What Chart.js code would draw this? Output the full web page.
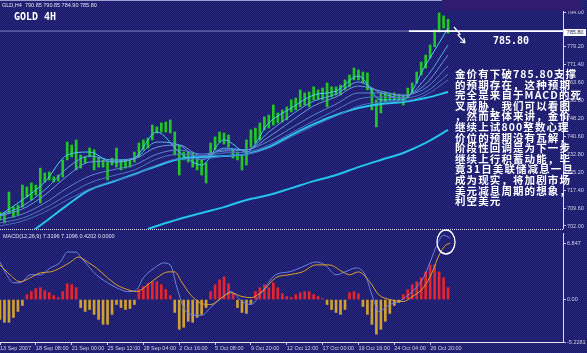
<!DOCTYPE html>
<html lang="zh-CN">
<head>
<meta charset="UTF-8">
<title>GOLD 4H</title>
<script src="https://cdn.jsdelivr.net/npm/chart.js@4.4.0/dist/chart.umd.min.js"></script>
<style>
html, body { margin: 0; padding: 0; }
body {
  width: 587px; height: 353px; overflow: hidden;
  background: #1e1e72 repeating-conic-gradient(#1a1a69 0 25%, #27277d 0 50%) 0 0/2px 2px;
  font-family: "Liberation Sans", Arial, sans-serif;
}
#wrap { position: relative; width: 587px; height: 353px; }
canvas { position: absolute; left: 0; }
#price { top: 0; }
#macd { top: 229px; }
.ov { position: absolute; white-space: nowrap; }
#topline { left: 0; top: 0; width: 442px; height: 1px; background: #9c9cd0; }
#box { left: 442px; top: 0; width: 140px; height: 11px; background: #2f1c6e; }
#sep { left: 0; top: 229px; width: 563px; height: 0; border-top: 1px dotted #dcdcec; }
#hdr { left: 2px; top: 2px; font-size: 5.5px; line-height: 6px; color: #e0e0f0; }
#title { left: 14px; top: 11px; font: bold 10px/11px "DejaVu Sans Mono", monospace; color: #fff; }
#lvl { left: 493px; top: 35px; font: bold 10px/11px "DejaVu Sans Mono", monospace; color: #fff; }
#tag { left: 564px; top: 29px; width: 22px; height: 7px; background: #fff; color: #1a1a6a;
  font-size: 5.5px; line-height: 7px; text-align: center; }
#macdlbl { left: 3px; top: 233px; font-size: 5.5px; line-height: 6px; color: #e0e0f0; }
#note { left: 455px; top: 69px; font: bold 10.5px/10.6px "Noto Sans CJK SC", sans-serif;
  letter-spacing: 1.1px; color: #fff; }
svg { position: absolute; left: 0; top: 0; }
</style>
</head>
<body>
<div id="wrap">
  <canvas id="price" width="587" height="229"></canvas>
  <canvas id="macd" width="587" height="124"></canvas>
  <div class="ov" id="topline"></div>
  <div class="ov" id="box"></div>
  <div class="ov" id="sep"></div>
  <div class="ov" id="hdr">GLD,H4&nbsp; 790.85 790.85 784.90 785.80</div>
  <div class="ov" id="title">GOLD 4H</div>
  <div class="ov" id="lvl">785.80</div>
  <div class="ov" id="tag">785.80</div>
  <div class="ov" id="macdlbl">MACD(12,26,9) 7.3196 7.1096 0.4202 0.0000</div>
  <div class="ov" id="note"></div>
  <svg width="587" height="353">
    <path d="M454,27 L460,34 L458,35 L465,43 M465,43 L460,42 M465,43 L464,38" stroke="#fff" stroke-width="1.2" fill="none"/>
    <ellipse cx="446" cy="242" rx="9" ry="12" stroke="#fff" stroke-width="1.3" fill="none"/>
  </svg>
</div>

<script>
Chart.defaults.font.family = '"Liberation Sans", Arial, sans-serif';

// 4H bars, every second bar (index = bar number)
const barHigh = [708.0,707.6,716.6,710.1,711.0,719.6,718.8,720.5,719.6,726.9,
  724.8,725.2,723.1,723.9,730.4,738.1,736.8,739.0,732.5,731.7,
  735.5,734.7,731.2,730.4,729.5,731.2,735.5,730.4,730.4,730.4,
  733.8,737.7,739.0,739.8,745.4,744.6,746.3,746.7,747.6,742.4,
  736.8,733.8,733.8,733.4,731.2,730.4,729.1,737.7,740.3,742.4,
  742.0,741.1,734.7,733.8,732.5,739.0,743.3,744.1,746.3,748.9,
  749.7,754.0,750.6,751.9,753.2,756.2,757.0,760.5,759.2,759.6,
  761.8,760.5,761.3,763.5,761.8,761.8,762.6,764.8,766.9,769.9,
  769.1,768.2,767.8,761.3,756.2,759.2,759.6,759.2,759.2,758.7,
  758.3,761.3,763.5,768.2,772.5,775.5,779.8,786.3,793.6,792.3,
  790.85];
const barLow = [704.6,703.3,707.6,705.8,706.7,710.1,714.5,713.2,715.3,711.9,
  720.9,721.8,720.9,721.3,723.1,730.4,731.7,726.1,726.9,729.1,
  731.7,726.1,727.3,727.3,721.8,728.2,727.3,726.1,726.9,727.3,
  729.5,731.7,734.7,735.5,739.0,742.0,742.4,742.4,742.0,732.5,
  723.9,730.4,729.5,727.3,726.1,723.9,720.5,731.7,734.7,738.1,
  737.2,735.9,731.2,730.4,726.1,728.2,735.9,737.7,739.0,743.3,
  744.1,745.4,746.3,746.7,747.6,751.0,751.9,753.2,754.0,753.2,
  756.2,756.2,756.2,753.2,757.5,758.3,758.3,760.5,761.8,764.8,
  764.8,763.5,760.5,751.9,744.6,750.6,755.3,756.2,756.2,756.2,
  754.0,757.0,759.2,763.5,766.9,769.9,774.2,779.0,785.4,787.1,
  784.9];

// moving averages, sampled every 10 bars
const maIdx = [0,10,20,30,40,50,60,70,80,90,100,110,120,130,140,150,160,170,180,190,200];
const maFast = [706.7,713.2,720.9,732.5,733.8,729.5,731.2,742.4,733.8,728.2,739.0,733.8,746.3,752.7,758.3,760.0,766.5,756.2,756.2,771.2,787.1];
const maMid = [706.7,710.6,717.5,726.9,732.1,730.4,731.2,738.1,736.8,730.4,735.5,734.7,742.4,749.7,755.7,758.7,763.9,759.2,757.0,765.6,779.8];
const maSlow = [706.3,709.3,715.3,723.5,729.5,729.9,730.8,735.9,736.8,732.1,734.7,734.7,740.3,747.1,753.6,757.5,762.2,760.0,757.9,763.0,775.5];
const maL1 = [704.6,707.1,711.9,718.3,723.5,726.1,728.2,732.9,734.7,732.9,734.2,734.7,738.5,744.1,749.7,754.4,759.2,759.2,758.3,761.3,770.8];
const maL2 = [703.3,705.4,709.7,715.3,720.5,723.5,726.1,730.8,732.9,732.1,733.4,733.8,736.8,742.0,747.1,751.9,756.6,757.5,757.0,759.6,767.3];
const maL3 = [702.0,704.1,708.0,713.2,717.9,721.3,723.9,728.2,730.8,730.8,732.1,732.9,735.5,740.3,745.0,749.3,753.6,755.3,755.7,758.3,764.8];
const maThick = [691.7,696.8,703.7,711.0,717.5,720.9,724.3,727.8,730.8,731.7,732.1,732.9,735.9,741.1,745.8,749.7,752.7,754.4,755.3,757.0,759.6];
const slowIdx = [66,70,80,90,100,110,120,130,140,150,160,170,180,190,200];
const maSlowest = [700.7,702.0,705.0,707.6,710.1,713.2,715.3,718.3,721.3,723.9,727.3,730.4,733.4,737.7,743.3];

const lastPrice = 785.80;
const priceTicks = [794.00,779.20,771.40,763.60,756.00,748.20,740.60,732.80,725.20,717.40,709.60,702.00];

// MACD histogram, every second bar
const histVal = [-2.44,-2.80,-2.80,-2.20,-1.46,-0.73,0.61,0.98,1.34,1.46,
  1.10,0.85,0.49,0.24,0.98,1.95,1.83,1.46,-0.98,-1.46,
  -1.22,-1.83,-2.44,-3.05,-3.05,-1.83,-0.61,-0.98,-1.22,-1.10,
  -0.61,1.22,1.59,1.95,2.20,2.20,1.83,1.22,0.49,-1.59,
  -3.66,-3.41,-2.68,-2.80,-2.20,-1.83,-0.98,0.98,1.83,2.44,
  2.80,1.95,0.73,-0.98,-1.59,-1.71,-0.49,0.98,1.46,1.83,
  1.46,2.07,1.46,0.73,0.37,0.24,0.61,0.85,0.98,0.98,
  0.61,0.37,0.12,-0.61,-1.22,-1.59,-1.83,-1.22,0.85,0.98,
  0.73,-0.85,-1.83,-3.05,-4.27,-3.66,-2.68,-1.71,-0.73,-0.37,
  0.61,1.22,1.83,2.20,2.68,3.41,4.27,4.27,3.41,2.68,
  1.46];
const macdIdx = [0,3,6,9,13.5,18,22.5,27,30,34,36,39,43,48,52,57,61,64,69,73,76,79,82,85,90,94,99,103,108,112,117,123,129,135,141,145,150,154,159,163,166,169,174,178,184,189,192,195,198,201];
const macdVal = [4.63,3.05,2.07,2.07,3.05,3.05,3.90,4.63,5.85,5.85,5.24,4.27,3.05,2.07,1.46,0.98,1.22,2.68,3.90,4.51,4.27,1.46,-0.98,-1.83,-1.95,-0.98,0.24,0.98,-0.24,-0.61,0.98,3.05,3.41,4.02,4.63,4.27,3.05,3.41,3.90,3.05,0.61,-1.46,-0.61,-0.24,0.98,2.68,4.63,6.71,7.93,7.56];
const sigIdx = [0,4.5,9,13.5,18,22.5,27,31.5,35,39,43,48,52,57,61,66,70,75,78,81,85,90,94,99,103,108,112,117,123,129,135,141,147,153,156,160,165,169,174,180,184,189,193,196,199,201];
const sigVal = [4.27,3.05,2.20,2.68,3.29,3.41,3.90,4.63,5.24,4.63,3.90,2.68,1.83,1.22,0.98,1.83,2.68,3.41,3.41,2.20,0.61,-0.49,-0.61,0.24,0.85,0.37,0.24,0.98,2.68,3.05,3.41,4.27,4.27,3.41,3.05,3.41,2.20,0.61,0.00,-0.24,0.37,1.46,3.41,5.49,6.71,6.95];
const macdTicks = [6.847, 0, -5.2281];

const timeIdx = [0,16,32,48,64,80,96,112,128,144,160,176,192];
const timeLabels = ['13 Sep 2007','18 Sep 08:00','21 Sep 00:00','25 Sep 12:00','28 Sep 04:00','2 Oct 16:00',
  '5 Oct 08:00','9 Oct 20:00','12 Oct 12:00','17 Oct 00:00','19 Oct 16:00','24 Oct 04:00','26 Oct 20:00'];

const noteLines = ['金价有下破785.80支撑','的预期存在，这种预期','完全是来自于MACD的死','叉威胁，我们可以看图',
  '，然而整体来讲，金价','继续上试800整数心理','价位的预期没有瓦解，','阶段性回调是为下一步',
  '继续上行积蓄动能，毕','竟31日美联储减息一旦','成为现实，将加剧市场','美元减息周期的想象，','利空美元'];
document.getElementById('note').innerHTML = noteLines.join('<br>');

const XMAX = 251.3;   // bars visible across the plot width
const pts = (idx, vals) => idx.map((x, k) => ({ x: x, y: vals[k] }));
const line = (idx, vals, color, w) => ({
  type: 'line', data: pts(idx, vals), borderColor: color, borderWidth: w,
  pointRadius: 0, cubicInterpolationMode: 'monotone', order: 1
});
const axisCol = '#c8c8dc';
const tickFont = { size: 5.5 };

new Chart(document.getElementById('price'), {
  data: {
    datasets: [
      { type: 'bar', data: barHigh.map((h, k) => ({ x: k * 2, y: [barLow[k], h] })),
        backgroundColor: '#22c822', barThickness: 2, order: 10 },
      line(maIdx, maL3, '#4a6cc0', 1),
      line(maIdx, maL2, '#4f78c8', 1),
      line(maIdx, maL1, '#5b86d6', 1),
      line(maIdx, maSlow, '#6a9ae0', 1),
      line(maIdx, maMid, '#5aa8f0', 1),
      line(maIdx, maFast, '#46d2f0', 1),
      line(maIdx, maThick, '#26c6ee', 2),
      line(slowIdx, maSlowest, '#22c4ee', 2),
      { type: 'line', data: [{ x: 0, y: lastPrice }, { x: XMAX, y: lastPrice }],
        borderColor: '#8484c4', borderWidth: 1, pointRadius: 0, order: 2 },
      { type: 'line', data: [{ x: 182.5, y: lastPrice }, { x: XMAX, y: lastPrice }],
        borderColor: '#ffffff', borderWidth: 1.6, pointRadius: 0, order: 0 }
    ]
  },
  options: {
    responsive: false, animation: false, events: [],
    layout: { padding: { top: 4, left: 0, right: 0, bottom: 0 } },
    plugins: { legend: { display: false }, tooltip: { enabled: false } },
    scales: {
      x: { type: 'linear', min: 0, max: XMAX, offset: false, display: false, grid: { offset: false } },
      y: {
        position: 'right', min: 700.71, max: 797.44,
        afterFit: s => { s.width = 24; s.paddingTop = 0; s.paddingBottom = 0; },
        afterBuildTicks: s => { s.ticks = priceTicks.map(v => ({ value: v })); },
        border: { color: '#dcdce8', width: 1 },
        grid: { drawOnChartArea: false, drawTicks: true, tickLength: 3, color: axisCol },
        ticks: { color: '#d0d0e2', font: tickFont, padding: 1, callback: v => v.toFixed(2) }
      }
    }
  }
});

new Chart(document.getElementById('macd'), {
  data: {
    datasets: [
      { type: 'bar', data: histVal.map((v, k) => ({ x: k * 2, y: v })),
        backgroundColor: histVal.map(v => v >= 0 ? '#e8242c' : '#d0a030'),
        barThickness: 2, order: 5 },
      { type: 'line', data: pts(macdIdx, macdVal), borderColor: '#6c84e0', borderWidth: 1,
        pointRadius: 0, cubicInterpolationMode: 'monotone', order: 1 },
      { type: 'line', data: pts(sigIdx, sigVal), borderColor: '#e0a228', borderWidth: 1,
        pointRadius: 0, cubicInterpolationMode: 'monotone', order: 0 }
    ]
  },
  options: {
    responsive: false, animation: false, events: [],
    layout: { padding: { top: 4, left: 0, right: 0, bottom: 0 } },
    plugins: { legend: { display: false }, tooltip: { enabled: false } },
    scales: {
      x: {
        type: 'linear', min: 0, max: XMAX, offset: false,
        afterFit: s => { s.height = 11; s.paddingLeft = 0; s.paddingRight = 0; },
        afterBuildTicks: s => { s.ticks = timeIdx.map(v => ({ value: v })); },
        border: { color: '#e6e6f0', width: 1 },
        grid: { offset: false, drawOnChartArea: false, drawTicks: true, tickLength: 3, color: axisCol },
        ticks: { color: '#d0d0e2', font: tickFont, padding: 0, align: 'start', maxRotation: 0,
          autoSkip: false, callback: (v, k) => timeLabels[k] }
      },
      y: {
        position: 'right', min: -5.2281, max: 8.2,
        afterFit: s => { s.width = 24; s.paddingTop = 0; s.paddingBottom = 0; },
        afterBuildTicks: s => { s.ticks = macdTicks.map(v => ({ value: v })); },
        border: { color: '#dcdce8', width: 1 },
        grid: { drawOnChartArea: false, drawTicks: true, tickLength: 3, color: axisCol },
        ticks: { color: '#d0d0e2', font: tickFont, padding: 1, callback: v => v === 0 ? '0.00' : String(v) }
      }
    }
  }
});
</script>
</body>
</html>
